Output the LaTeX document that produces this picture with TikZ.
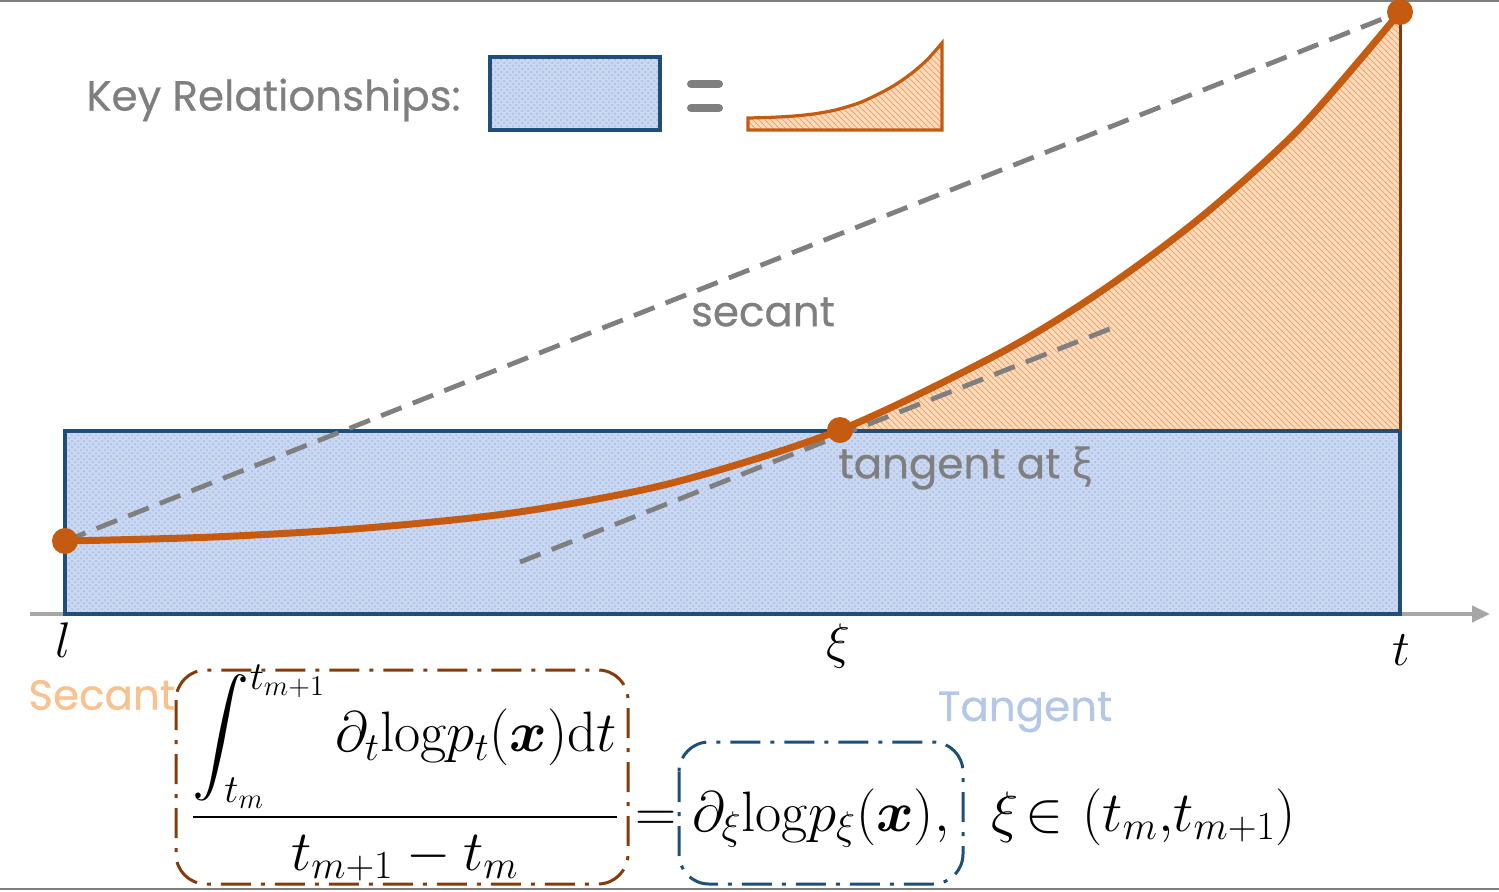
\RequirePackage{fix-cm}
\documentclass[tikz,border=0pt]{standalone}
\usepackage{amsmath,amssymb,bm}
\usepackage{fontspec}
\newfontfamily\comic{Poppins}[FakeBold=0.5]
\newfontfamily\greekf{Open Sans}[FakeBold=0.5]
\usetikzlibrary{patterns,arrows.meta}
\definecolor{curveor}{HTML}{C55A11}
\definecolor{navy}{HTML}{1F4E79}
\definecolor{bluebg}{HTML}{C9D7F1}
\definecolor{bluedot}{HTML}{A3BBE8}
\definecolor{orbg}{HTML}{FCDCC0}
\definecolor{orline}{HTML}{F6A463}
\definecolor{brownc}{HTML}{843C0C}
\definecolor{grayc}{HTML}{7F7F7F}
\definecolor{axisc}{HTML}{A6A6A6}
\definecolor{secantc}{HTML}{F8C190}
\definecolor{tangentc}{HTML}{B4C7E7}
\tikzset{
  bluefill/.style={preaction={fill=bluebg}, pattern=crosshatch dots, pattern color=bluedot},
  orangefill/.style={preaction={fill=orbg}, pattern=north west lines, pattern color=orline},
  blueborder/.style={draw=navy, line width=1.6pt},
  orborder/.style={draw=curveor, line width=1.6pt},
  brownline/.style={draw=brownc, line width=1.5pt},
  axisline/.style={draw=axisc, line width=2pt},
  dashline/.style={draw=grayc, line width=2.4pt, dash pattern=on 11pt off 6pt},
  curvestyle/.style={draw=curveor, line width=3.5pt},
  dotstyle/.style={circle, fill=curveor, inner sep=0pt, minimum size=13pt},
  labeltext/.style={font=\comic\fontsize{21}{25}\selectfont, text=grayc, inner sep=0pt},
  mathlabel/.style={font=\fontsize{25}{29}\selectfont, inner sep=0pt},
  eqbar/.style={draw=grayc, line width=4pt, line cap=round},
  dashbox/.style={line width=1.5pt, rounded corners=15pt, dash pattern=on 15pt off 5pt on 2pt off 5pt},
  frameline/.style={draw=grayc, line width=1pt}
}
\begin{document}
\begin{tikzpicture}[x=0.5pt,y=-0.5pt]
\useasboundingbox (0,0) rectangle (1499,891);
\draw[frameline] (0,1) -- (1499,1);
\draw[frameline] (0,889) -- (1499,889);

% axis
\coordinate (ax0) at (30,614);
\coordinate (ax1) at (1490,614);
\draw[axisline, -{Triangle[length=9pt,width=8pt]}] (ax0) -- (ax1);
\coordinate (tk0) at (840,603);
\coordinate (tk1) at (840,614);
\draw[axisline, line width=1.5pt] (tk0) -- (tk1);

% blue area
\path[bluefill] (65,431) rectangle (1400,614);

% orange hatched area
\begin{scope}
\clip (840,0) rectangle (1400,431);
\path[orangefill] plot[smooth] coordinates {(65,541) (213,537) (366,528) (519,512) (672,483) (840,430) (1000,353) (1100,292) (1200,218) (1300,128) (1400,12)} -- (1400,431) -- (65,431) -- cycle;
\end{scope}

\draw[blueborder] (65,431) rectangle (1400,614);
\coordinate (vt) at (1400,12);
\coordinate (vb) at (1400,431);
\draw[brownline] (vt) -- (vb);

% points
\coordinate (l) at (65,541);
\coordinate (xi) at (840,430);
\coordinate (t) at (1400,12);

% secant and tangent
\draw[dashline] (l) -- (t);
\coordinate (tg0) at (520,562);
\coordinate (tg1) at (1112,328);
\draw[dashline] (tg0) -- (tg1);

% curve
\draw[curvestyle] plot[smooth] coordinates {(65,541) (213,537) (366,528) (519,512) (672,483) (840,430) (1000,353) (1100,292) (1200,218) (1300,128) (1400,12)};

\node[dotstyle] (L) at (l) {};
\node[dotstyle] (XI) at (xi) {};
\node[dotstyle] (T) at (t) {};

% labels
\node[labeltext] (sec) at (763,312) {secant};
\node[labeltext] (tan) at (965,468) {tangent at {\greekf ξ}};

\node[mathlabel] (lab-l) at (63,640) {$l$};
\node[mathlabel] (lab-xi) at (838,646) {$\xi$};
\node[mathlabel] (lab-t) at (1401,650) {$t$};

% key
\node[labeltext, anchor=west] (key) at (86,100) {Key Relationships:};
\draw[bluefill, blueborder] (490,57) rectangle (660,130);
\coordinate (e1a) at (691,84); \coordinate (e1b) at (719,84);
\coordinate (e2a) at (691,108); \coordinate (e2b) at (719,108);
\draw[eqbar] (e1a) -- (e1b);
\draw[eqbar] (e2a) -- (e2b);
\draw[orangefill, orborder] plot[smooth] coordinates {(748,118) (769.5,117.4) (791.7,116.2) (814,113.9) (836.2,109.8) (860.6,102.3) (883.8,91.3) (898.4,82.7) (913,72.2) (927.5,59.4) (942,43)} -- (942,130) -- (748,130) -- cycle;

% formula
\node[anchor=base west, inner sep=0pt] (eq) at (190,831) {\fontsize{28.5}{34}\selectfont $\displaystyle \frac{\displaystyle\int_{t_m}^{t_{m+1}} \partial_t \mathrm{log} p_t(\bm{x})\mathrm{d}t}{t_{m+1}-t_m} = \partial_\xi \mathrm{log} p_\xi(\bm{x}),\ \;\xi\mskip2mu{\in}\mskip6mu(t_m,\!t_{m+1})$};

\draw[dashbox, draw=brownc] (176,670) rectangle (628,884);
\draw[dashbox, draw=navy] (679,742) rectangle (963,884);

\node[labeltext, text=secantc, anchor=west] (seclab) at (28,695) {Secant};
\node[labeltext, text=tangentc] (tanlab) at (1025,712) {Tangent};
\end{tikzpicture}
\end{document}
